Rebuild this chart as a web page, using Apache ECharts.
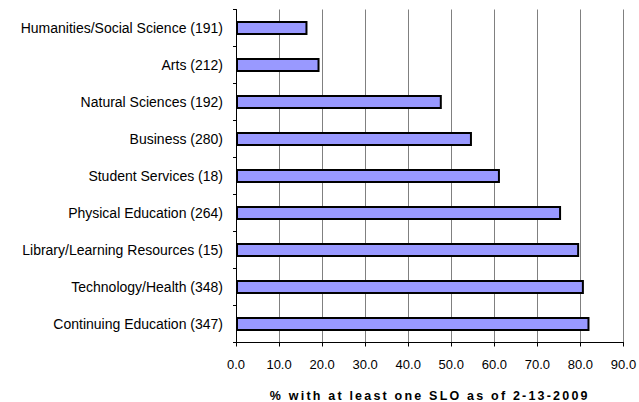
<!DOCTYPE html>
<html>
<head>
<meta charset="utf-8">
<script src="https://cdn.jsdelivr.net/npm/echarts@6/dist/echarts.min.js"></script>
<style>
  html, body { margin: 0; padding: 0; background: #fff; }
  #chart { width: 639px; height: 402px; }
  /* loose tracking on the bold axis title */
  #chart svg text[style*="bold"] { letter-spacing: 2.2px; }
</style>
</head>
<body>
<div id="chart"></div>
<script>
// Departments (number of courses in parentheses), listed top to bottom
const categories = [
  'Humanities/Social Science (191)',
  'Arts (212)',
  'Natural Sciences (192)',
  'Business (280)',
  'Student Services (18)',
  'Physical Education (264)',
  'Library/Learning Resources (15)',
  'Technology/Health (348)',
  'Continuing Education (347)'
];

// Percent of courses with at least one SLO
const percentWithSLO = [16.6, 19.4, 47.8, 54.8, 61.3, 75.5, 79.7, 80.8, 82.1];

// Value axis range
const axisMin = 0;
const axisMax = 90;
const axisStep = 10;

const axisTitle = '% with at least one SLO as of 2-13-2009';

const chart = echarts.init(document.getElementById('chart'), null, { renderer: 'svg' });

const font = 'Liberation Sans';

chart.setOption({
  animation: false,
  backgroundColor: '#ffffff',
  grid: {
    left: 236, right: 15.5, top: 9.5, bottom: 59.5,
    containLabel: false,
    outerBoundsMode: 'none'
  },
  xAxis: {
    type: 'value',
    min: axisMin,
    max: axisMax,
    interval: axisStep,
    name: axisTitle,
    nameLocation: 'middle',
    nameGap: 47,
    nameTextStyle: {
      fontFamily: font,
      fontSize: 12.5,
      fontWeight: 'bold',
      color: '#000'
    },
    axisLine: { show: true, lineStyle: { color: '#000', width: 1 } },
    axisTick: { show: true, length: 4, lineStyle: { color: '#000' } },
    axisLabel: {
      margin: 15,
      fontFamily: font,
      fontSize: 13,
      color: '#000',
      formatter: v => v.toFixed(1)
    },
    splitLine: { show: true, lineStyle: { color: '#808080', width: 1 } }
  },
  yAxis: {
    type: 'category',
    data: categories,
    inverse: true,
    axisLine: { show: true, lineStyle: { color: '#000', width: 1 } },
    axisTick: { show: true, length: 3, lineStyle: { color: '#000' } },
    axisLabel: {
      margin: 13,
      fontFamily: font,
      fontSize: 14,
      color: '#000'
    },
    splitLine: { show: false }
  },
  series: [{
    type: 'bar',
    data: percentWithSLO,
    barWidth: '38%',
    itemStyle: {
      color: '#9999ff',
      borderColor: '#000',
      borderWidth: 2
    }
  }]
});
</script>
</body>
</html>
